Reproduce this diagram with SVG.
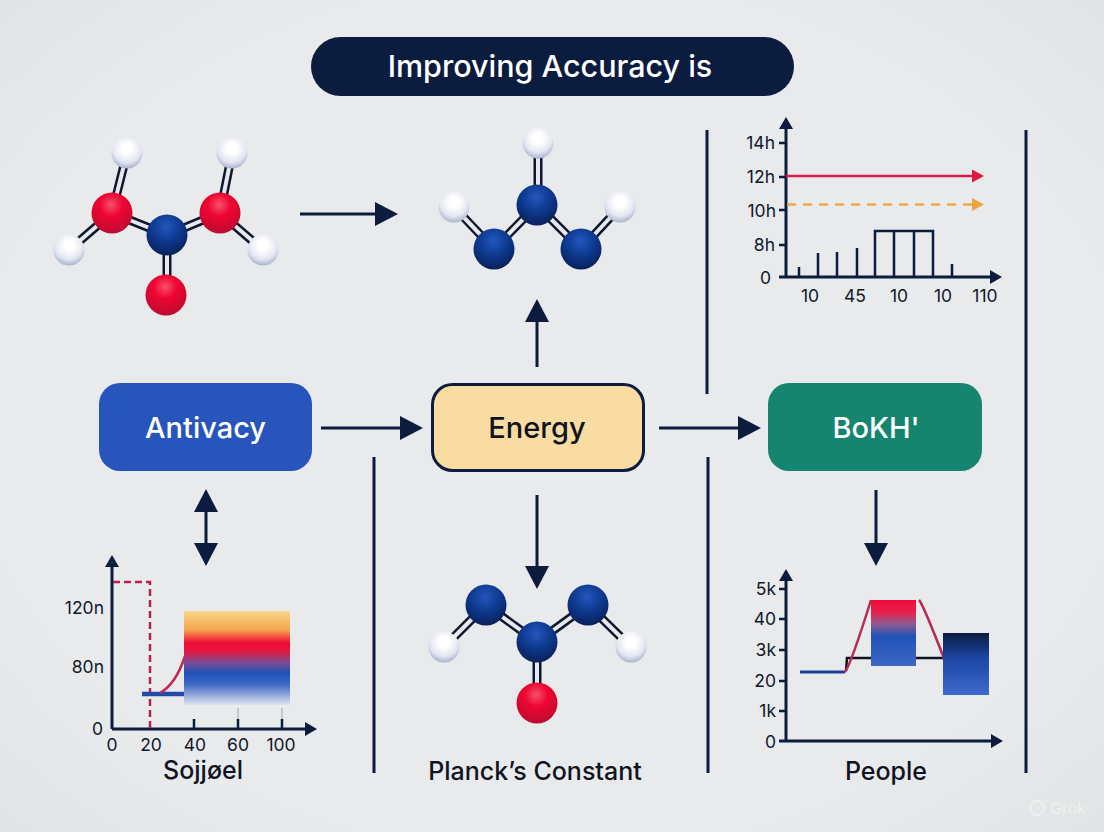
<svg xmlns="http://www.w3.org/2000/svg" width="1104" height="832" viewBox="0 0 1104 832">
<style>
text{font-family:Inter,"Liberation Sans",sans-serif;fill:#0b1c3f}
.nl{font-size:29px;font-weight:500;text-anchor:middle}
.cap{font-size:25px;font-weight:500;text-anchor:middle;fill:#10141f}
.ax{font-size:17.5px;fill:#10182c}
.ax text{fill:#10182c}
.r{text-anchor:end}.m{text-anchor:middle}
.bo{stroke:#0d1730;stroke-width:9}
.bi{stroke:#e7e9ea;stroke-width:4}
.w{fill:url(#gw)}.b{fill:url(#gb)}.d{fill:url(#gr)}
.arr{stroke:#0b1c3f;stroke-width:3;fill:none;marker-end:url(#ah)}
.div{stroke:#0b1c3f;stroke-width:3}
.axis{stroke:#0b1c3f;stroke-width:3;fill:none;marker-end:url(#as)}
.t{stroke:#0b1c3f;stroke-width:2.5;fill:none}
</style>
<defs>
<radialGradient id="bg" cx="50%" cy="50%" r="75%"><stop offset="0.7" stop-color="#e8eaeb"/><stop offset="1" stop-color="#e0e3e4"/></radialGradient>
<radialGradient id="gw" cx="50%" cy="35%" r="65%"><stop offset="0.25" stop-color="#ffffff"/><stop offset="0.7" stop-color="#e3e6f0"/><stop offset="1" stop-color="#a9b2d0"/></radialGradient>
<radialGradient id="gb" cx="48%" cy="30%" r="70%"><stop offset="0" stop-color="#2257bd"/><stop offset="0.5" stop-color="#0e3a90"/><stop offset="1" stop-color="#09205a"/></radialGradient>
<radialGradient id="gr" cx="48%" cy="30%" r="70%"><stop offset="0" stop-color="#f8506c"/><stop offset="0.4" stop-color="#ee0632"/><stop offset="1" stop-color="#bd0a30"/></radialGradient>
<linearGradient id="h1" x1="0" y1="0" x2="0" y2="1"><stop offset="0" stop-color="#f6d68c"/><stop offset="0.2" stop-color="#f7a54f"/><stop offset="0.34" stop-color="#ee0a37"/><stop offset="0.42" stop-color="#e8163f"/><stop offset="0.55" stop-color="#7a4e96"/><stop offset="0.66" stop-color="#1f50b8"/><stop offset="0.78" stop-color="#3f69c6"/><stop offset="1" stop-color="#e0e4ee"/></linearGradient>
<linearGradient id="h2" x1="0" y1="0" x2="0" y2="1"><stop offset="0" stop-color="#ee0a3a"/><stop offset="0.18" stop-color="#ea1f4a"/><stop offset="0.36" stop-color="#8f5a90"/><stop offset="0.55" stop-color="#2252b6"/><stop offset="1" stop-color="#3d66c8"/></linearGradient>
<linearGradient id="h3" x1="0" y1="0" x2="0" y2="1"><stop offset="0" stop-color="#0b1c3f"/><stop offset="0.4" stop-color="#1b46a4"/><stop offset="1" stop-color="#3f69cc"/></linearGradient>
<marker id="ah" viewBox="0 0 23 24" markerUnits="userSpaceOnUse" markerWidth="23" markerHeight="24" refX="2" refY="12" orient="auto-start-reverse"><path d="M0 0L23 12L0 24Z" fill="#0b1c3f"/></marker>
<marker id="as" viewBox="0 0 12 14" markerUnits="userSpaceOnUse" markerWidth="12" markerHeight="14" refX="1" refY="7" orient="auto"><path d="M0 0L12 7L0 14Z" fill="#0b1c3f"/></marker>
<marker id="ar" viewBox="0 0 12 13" markerUnits="userSpaceOnUse" markerWidth="12" markerHeight="13" refX="1" refY="6.5" orient="auto"><path d="M0 0L12 6.5L0 13Z" fill="#e0173f"/></marker>
<marker id="ao" viewBox="0 0 12 13" markerUnits="userSpaceOnUse" markerWidth="12" markerHeight="13" refX="1" refY="6.5" orient="auto"><path d="M0 0L12 6.5L0 13Z" fill="#eca640"/></marker>
</defs>
<rect id="background" width="1104" height="832" fill="url(#bg)"/>

<g id="title"><rect x="311" y="37" width="483" height="59" rx="29.5" fill="#0b1c3f"/><text x="550" y="77" font-size="30.5" font-weight="500" text-anchor="middle" style="fill:#fff">Improving Accuracy is</text></g>

<g id="molecule-1">
<line class="bo" x1="127" y1="153" x2="112" y2="213"/><line class="bi" x1="127" y1="153" x2="112" y2="213"/>
<line class="bo" x1="232" y1="153" x2="220" y2="213"/><line class="bi" x1="232" y1="153" x2="220" y2="213"/>
<line class="bo" x1="69" y1="250" x2="112" y2="213"/><line class="bi" x1="69" y1="250" x2="112" y2="213"/>
<line class="bo" x1="263" y1="250" x2="220" y2="213"/><line class="bi" x1="263" y1="250" x2="220" y2="213"/>
<line class="bo" x1="112" y1="213" x2="167" y2="235"/><line class="bi" x1="112" y1="213" x2="167" y2="235"/>
<line class="bo" x1="220" y1="213" x2="167" y2="235"/><line class="bi" x1="220" y1="213" x2="167" y2="235"/>
<line class="bo" x1="167" y1="235" x2="167" y2="295"/><line class="bi" x1="167" y1="235" x2="167" y2="295"/>
<circle class="w" cx="127" cy="153" r="15.5"/><circle class="w" cx="232" cy="153" r="15.5"/><circle class="w" cx="69" cy="250" r="15.5"/><circle class="w" cx="263" cy="250" r="15.5"/>
<circle class="d" cx="112" cy="213" r="20.5"/><circle class="d" cx="220" cy="213" r="20.5"/><circle class="b" cx="167" cy="235" r="20.5"/><circle class="d" cx="166" cy="295" r="20.5"/>
</g>

<g id="molecule-2">
<line class="bo" x1="538" y1="143" x2="538" y2="205"/><line class="bi" x1="538" y1="143" x2="538" y2="205"/>
<line class="bo" x1="537" y1="205" x2="494" y2="249"/><line class="bi" x1="537" y1="205" x2="494" y2="249"/>
<line class="bo" x1="537" y1="205" x2="581" y2="249"/><line class="bi" x1="537" y1="205" x2="581" y2="249"/>
<line class="bo" x1="454" y1="207" x2="494" y2="249"/><line class="bi" x1="454" y1="207" x2="494" y2="249"/>
<line class="bo" x1="620" y1="207" x2="581" y2="249"/><line class="bi" x1="620" y1="207" x2="581" y2="249"/>
<circle class="w" cx="538" cy="143" r="15.5"/><circle class="w" cx="454" cy="207" r="15.5"/><circle class="w" cx="620" cy="207" r="15.5"/>
<circle class="b" cx="537" cy="205" r="20.5"/><circle class="b" cx="494" cy="249" r="20.5"/><circle class="b" cx="581" cy="249" r="20.5"/>
</g>

<g id="molecule-3">
<line class="bo" x1="486" y1="605" x2="537" y2="642"/><line class="bi" x1="486" y1="605" x2="537" y2="642"/>
<line class="bo" x1="588" y1="605" x2="537" y2="642"/><line class="bi" x1="588" y1="605" x2="537" y2="642"/>
<line class="bo" x1="444" y1="647" x2="486" y2="605"/><line class="bi" x1="444" y1="647" x2="486" y2="605"/>
<line class="bo" x1="631" y1="647" x2="588" y2="605"/><line class="bi" x1="631" y1="647" x2="588" y2="605"/>
<line class="bo" x1="537" y1="642" x2="537" y2="703"/><line class="bi" x1="537" y1="642" x2="537" y2="703"/>
<circle class="w" cx="444" cy="647" r="15.5"/><circle class="w" cx="631" cy="647" r="15.5"/>
<circle class="b" cx="486" cy="605" r="20.5"/><circle class="b" cx="588" cy="605" r="20.5"/><circle class="b" cx="537" cy="642" r="20.5"/><circle class="d" cx="537" cy="703" r="20.5"/>
</g>

<g id="node-antivacy"><rect x="99" y="383" width="213" height="88" rx="21" fill="#2755bb"/><text class="nl" x="205.500" y="438" style="fill:#fff">Antivacy</text></g>
<g id="node-energy"><rect x="432.500" y="384.500" width="211" height="86" rx="20" fill="#f8dca2" stroke="#0b1c3f" stroke-width="3"/><text class="nl" x="537" y="438" style="fill:#10141f">Energy</text></g>
<g id="node-bokh"><rect x="768" y="383" width="214" height="88" rx="21" fill="#158570"/><text class="nl" x="876" y="438" style="fill:#fff">BoKH'</text></g>

<g id="connectors">
<line class="arr" x1="300" y1="214" x2="377" y2="214"/>
<line class="arr" x1="537" y1="367" x2="537" y2="320"/>
<line class="arr" x1="321" y1="428" x2="402" y2="428"/>
<line class="arr" x1="659" y1="428" x2="740" y2="428"/>
<line class="arr" x1="206" y1="510" x2="206" y2="545" style="marker-start:url(#ah)"/>
<line class="arr" x1="537" y1="495" x2="537" y2="568"/>
<line class="arr" x1="876" y1="490" x2="876" y2="545"/>
</g>

<g id="dividers">
<line class="div" x1="707" y1="130" x2="707" y2="394"/>
<line class="div" x1="1026" y1="130" x2="1026" y2="773"/>
<line class="div" x1="374" y1="457" x2="374" y2="773"/>
<line class="div" x1="708" y1="457" x2="708" y2="773"/>
</g>

<g id="chart-top">
<line class="axis" x1="786" y1="277" x2="786" y2="128"/>
<line class="axis" x1="779" y1="277" x2="991" y2="277"/>
<path class="t" d="M779 143H786M779 177H786M779 210H786M779 245H786"/>
<path class="t" d="M799 277V267M818 277V253M837 277V252M857 277V248M952 277V264"/>
<path class="t" d="M875 277V231H933V277M894 231V277M914 231V277"/>
<line x1="786" y1="176" x2="973" y2="176" stroke="#dc1c48" stroke-width="2.500" marker-end="url(#ar)"/>
<line x1="787" y1="204.500" x2="973" y2="204.500" stroke="#eca94a" stroke-width="2.500" stroke-dasharray="9 7" marker-end="url(#ao)"/>
<g class="ax">
<text class="r" x="775" y="149">14h</text><text class="r" x="775" y="183">12h</text><text class="r" x="776" y="217">10h</text><text class="r" x="775" y="251">8h</text><text class="r" x="771" y="284">0</text>
<text class="m" x="810" y="302">10</text><text class="m" x="855" y="302">45</text><text class="m" x="899" y="302">10</text><text class="m" x="943" y="302">10</text><text class="m" x="985" y="302">110</text>
</g>
</g>

<g id="chart-left">
<line class="axis" x1="112" y1="729" x2="112" y2="566"/>
<line class="axis" x1="112" y1="729" x2="306" y2="729"/>
<path class="t" d="M194 729V719M238 729V719M282 729V719"/>
<path d="M238 719V708M282 719V708" stroke="#c3c7cf" stroke-width="2" fill="none"/>
<path d="M113 582H150V729" fill="none" stroke="#b8214f" stroke-width="2.500" stroke-dasharray="7 4"/>
<line x1="142" y1="694" x2="184" y2="694" stroke="#2349a8" stroke-width="4.500"/>
<path d="M160 693Q176 684 185 656" fill="none" stroke="#c02a52" stroke-width="2.500"/>
<rect x="184" y="611" width="106" height="94" fill="url(#h1)"/>
<g class="ax">
<text class="r" x="104" y="614">120n</text><text class="r" x="104" y="673">80n</text><text class="r" x="103" y="735">0</text>
<text class="m" x="112" y="751">0</text><text class="m" x="151" y="751">20</text><text class="m" x="195" y="751">40</text><text class="m" x="238" y="751">60</text><text class="m" x="281" y="751">100</text>
</g>
<text class="m" x="203" y="779" font-size="25" font-weight="500" style="fill:#10141f">Sojjøel</text>
</g>

<g id="chart-right">
<line class="axis" x1="786" y1="741" x2="786" y2="580"/>
<line class="axis" x1="779" y1="741" x2="992" y2="741"/>
<path class="t" d="M779 589H786M779 619H786M779 650H786M779 681H786M779 711H786"/>
<line x1="800" y1="672" x2="845" y2="672" stroke="#1e3f95" stroke-width="3"/>
<path d="M846 671L847 658H943" fill="none" stroke="#10141f" stroke-width="2.500"/>
<path d="M845 672Q851 664 871 600M919 600Q923 604 947 666" fill="none" stroke="#b82a55" stroke-width="2.500"/>
<rect x="871" y="600" width="45" height="66" fill="url(#h2)"/>
<rect x="943" y="633" width="46" height="62" fill="url(#h3)"/>
<g class="ax">
<text class="r" x="776" y="595">5k</text><text class="r" x="776" y="625">40</text><text class="r" x="776" y="656">3k</text><text class="r" x="776" y="687">20</text><text class="r" x="776" y="717">1k</text><text class="r" x="776" y="748">0</text>
</g>
</g>

<g id="captions">
<text class="cap" x="535" y="780">Planck’s Constant</text>
<text class="cap" x="886" y="780">People</text>
</g>

<g id="watermark"><circle cx="1037" cy="808" r="7" fill="none" stroke="#eef0f1" stroke-width="2"/><text x="1050" y="814" font-size="16" style="fill:#eef0f1">Grok</text></g>
</svg>
